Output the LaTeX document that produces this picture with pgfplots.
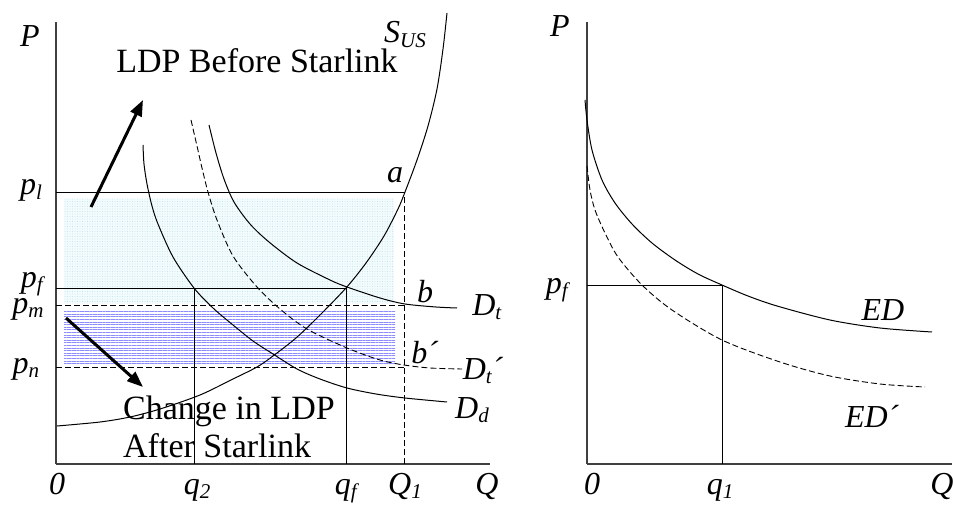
\documentclass[border=0pt]{standalone}
\usepackage{pgfplots}
\pgfplotsset{compat=1.18}
\usepackage{fontspec}
\setmainfont{Liberation Serif}
\usetikzlibrary{arrows.meta,patterns.meta}

% italic letter with a lowered italic subscript
\newcommand\lab[2]{\textit{#1}\raisebox{-0.15em}{\fontsize{21}{21}\selectfont\textit{#2}}}
\newcommand\labfont{\fontsize{32}{34}\selectfont}

\tikzset{
  lbl/.style={anchor=base, font=\labfont, inner sep=0pt},
  txt/.style={anchor=base west, font=\fontsize{34}{36}\selectfont, inner sep=0pt},
}
\pgfplotsset{
  econ/.style={
    scale only axis, anchor=south west,
    axis x line*=bottom, axis y line*=left,
    xtick=\empty, ytick=\empty, clip=false,
    axis line style={black!75, line width=1.3pt},
  },
  curve/.style={black, line width=1pt, smooth, tension=0.5},
  dcurve/.style={black, line width=0.9pt, smooth, tension=0.5, dash pattern=on 6pt off 3pt},
}

\begin{document}
\begin{tikzpicture}
\path[use as bounding box] (0pt,0pt) rectangle (953pt,504pt);

% ---------------- left panel: domestic market ----------------
\begin{axis}[econ, at={(56pt,40pt)}, width=434pt, height=442pt,
  xmin=0, xmax=434, ymin=0, ymax=442]
% shaded areas
\addplot[draw=none, fill=cyan!5] coordinates {(8,161)(338,161)(338,265)(8,265)(8,161)};
\addplot[draw=none, pattern={Dots[distance=2.5pt, radius=0.45pt]}, pattern color=teal!30]
  coordinates {(8,161)(338,161)(338,265)(8,265)(8,161)};
\addplot[draw=none, pattern={Lines[angle=0, distance=2.6pt, line width=0.8pt]}, pattern color=blue!45]
  coordinates {(8,101)(339,101)(339,153)(8,153)(8,101)};
% price and quantity guides
\addplot[black, line width=0.9pt] coordinates {(0,272)(348,272)};
\addplot[black, line width=0.9pt] coordinates {(0,176)(291,176)};
\addplot[black, line width=0.9pt, dash pattern=on 6pt off 3pt] coordinates {(0,159)(348,159)};
\addplot[black, line width=0.9pt, dash pattern=on 6pt off 3pt] coordinates {(0,97)(348,97)};
\addplot[black, line width=0.9pt] coordinates {(138,0)(138,176)};
\addplot[black, line width=0.9pt] coordinates {(290,0)(290,176)};
\addplot[black, line width=0.8pt, dash pattern=on 6pt off 3pt] coordinates {(348,0)(348,272)};
% S_US
\addplot[curve] coordinates {(1,38)(44,42)(74,47)(104,55)(144,69)(177,85)(201,97)(217,108)
  (240,126)(262,147)(290,176)(310,201)(328,228)(342,255)(349,272)(361,304)(372,338)
  (381,375)(387,415)(391,451)};
% D_d
\addplot[curve] coordinates {(87,319)(88,300)(91,280)(96,258)(102,240)(117,207)(138,176)
  (157,156)(177,139)(197,123)(217,110)(241,95)(264,85)(291,76)(320,70)(349,66)(391,62)};
% D_t
\addplot[curve] coordinates {(153,339)(160,311)(168,285)(178,262)(194,240)(213,222)(241,201)
  (274,184)(291,177)(324,166)(349,160)(380,157)(401,156)};
% D_t'
\addplot[dcurve] coordinates {(135,344)(141,318)(146,296)(152,272)(161,244)(177,208)(201,177)
  (224,155)(251,135)(291,116)(324,104)(348,99)(374,96)(406,95)};
% arrows
\draw[line width=3pt, -{Triangle[length=16pt,width=12pt]}] (axis cs:35,257) -- (axis cs:87,364);
\draw[line width=3pt, -{Triangle[length=16pt,width=12pt]}] (axis cs:10,146) -- (axis cs:87,77);
% texts
\node[txt, anchor=base] at (axis cs:201,391) {LDP Before Starlink};
\node[txt] at (axis cs:67,45) {Change in LDP};
\node[txt] at (axis cs:67,7) {After Starlink};
% labels
\node[lbl] at (axis cs:-26,417) {\textit{P}};
\node[lbl] at (axis cs:349,421) {\lab{S}{US}};
\node[lbl] at (axis cs:-25,269) {\lab{p}{l}};
\node[lbl] at (axis cs:-23,177) {\lab{p}{f}};
\node[lbl] at (axis cs:-28,151) {\lab{p}{m}};
\node[lbl] at (axis cs:-30,91) {\lab{p}{n}};
\node[lbl] at (axis cs:339,281) {\textit{a}};
\node[lbl] at (axis cs:369,162) {\textit{b}};
\node[lbl] at (axis cs:369,101) {\textit{b´}};
\node[lbl] at (axis cs:431,149) {\lab{D}{t}};
\node[lbl] at (axis cs:427,85) {\lab{D}{t}\textit{´}};
\node[lbl] at (axis cs:416,46) {\lab{D}{d}};
\node[lbl] at (axis cs:1,-30) {\textit{0}};
\node[lbl] at (axis cs:141,-30) {\lab{q}{2}};
\node[lbl] at (axis cs:291,-30) {\lab{q}{f}};
\node[lbl] at (axis cs:349,-30) {\lab{Q}{1}};
\node[lbl] at (axis cs:431,-30) {\textit{Q}};
\end{axis}

% ---------------- right panel: excess demand ----------------
\begin{axis}[econ, at={(587pt,40pt)}, width=365pt, height=442pt,
  xmin=0, xmax=365, ymin=0, ymax=442]
\addplot[black, line width=0.9pt] coordinates {(0,179)(135,179)};
\addplot[black, line width=0.9pt] coordinates {(135,0)(135,179)};
% ED
\addplot[curve] coordinates {(-2,364)(0,344)(5,314)(15,284)(28,261)(45,240)(65,221)(88,204)
  (111,190)(135,179)(161,168)(190,158)(243,144)(293,136)(345,132)};
% ED'
\addplot[dcurve] coordinates {(0,298)(3,274)(8,254)(18,231)(31,207)(55,179)(85,154)(135,124)
  (193,102)(243,88)(293,80)(338,77)};
\node[lbl] at (axis cs:-27,427) {\textit{P}};
\node[lbl] at (axis cs:-29,171) {\lab{p}{f}};
\node[lbl] at (axis cs:296,144) {\textit{ED}};
\node[lbl] at (axis cs:285,37) {\textit{ED´}};
\node[lbl] at (axis cs:5,-30) {\textit{0}};
\node[lbl] at (axis cs:133,-30) {\lab{q}{1}};
\node[lbl] at (axis cs:355,-30) {\textit{Q}};
\end{axis}
\end{tikzpicture}
\end{document}
